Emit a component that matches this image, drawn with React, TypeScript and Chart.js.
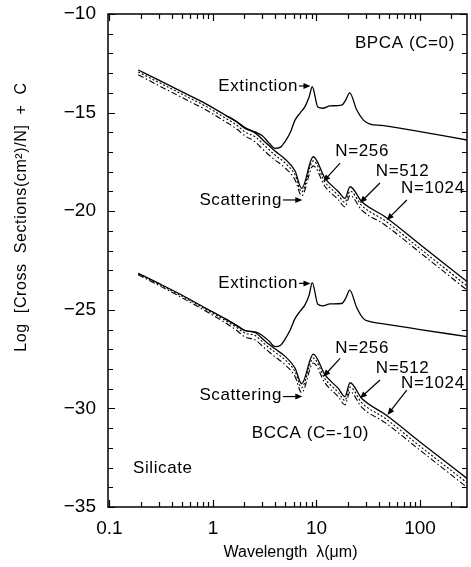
import React, { useEffect, useRef } from 'react';
import { Chart, registerables } from 'chart.js';

Chart.register(...registerables);

// ---------- data ----------
const X_TICKS = [0.1, 1, 10, 100];
const X_MIN = 0.097;
const X_MAX = 284;
const Y_MIN = -35;
const Y_MAX = -10;

// scattering cross sections (shared wavelength grid, µm)
const WL_SCA = [0.19, 0.3, 0.5, 0.84, 1.31, 1.7, 2.04, 2.55, 3.2, 3.97, 4.96, 6.2, 7.19, 9.31, 12.1, 16.3, 18.8, 21.1, 27.4, 45.9, 100, 284];
const BPCA_SCA_256 = [-12.84, -13.35, -13.94, -14.53, -15.12, -15.47, -15.8, -16.03, -16.5, -16.95, -17.35, -17.95, -18.84, -17.24, -18.33, -19.01, -19.35, -18.76, -19.52, -20.28, -21.69, -23.57];
const BPCA_SCA_512 = [-12.94, -13.47, -14.06, -14.66, -15.27, -15.64, -15.98, -16.22, -16.7, -17.15, -17.55, -18.15, -19.02, -17.45, -18.53, -19.2, -19.55, -18.98, -19.72, -20.48, -21.9, -23.79];
const BPCA_SCA_1024 = [-13.08, -13.63, -14.23, -14.84, -15.45, -15.83, -16.18, -16.48, -16.98, -17.4, -17.8, -18.4, -19.22, -17.7, -18.75, -19.42, -19.78, -19.2, -19.95, -20.7, -22.1, -24.0];
const BCCA_SCA_256 = [-23.15, -23.66, -24.25, -24.9, -25.45, -25.8, -26.05, -26.15, -26.6, -26.98, -27.35, -27.95, -28.75, -27.25, -28.3, -29.0, -29.4, -28.7, -29.5, -30.3, -31.7, -33.55];
const BCCA_SCA_512 = [-23.18, -23.7, -24.3, -24.96, -25.53, -25.9, -26.18, -26.3, -26.76, -27.15, -27.53, -28.13, -28.95, -27.45, -28.5, -29.2, -29.6, -28.92, -29.72, -30.5, -31.92, -33.77];
const BCCA_SCA_1024 = [-23.22, -23.76, -24.38, -25.05, -25.65, -26.05, -26.38, -26.52, -26.97, -27.38, -27.78, -28.38, -29.2, -27.7, -28.72, -29.42, -29.82, -29.15, -29.95, -30.72, -32.12, -34.0];

// extinction cross sections
const WL_EXT = [1.31, 1.7, 2.04, 2.55, 3.0, 3.5, 3.97, 4.5, 4.96, 5.6, 6.2, 7.0, 7.74, 8.5, 9.1, 10.3, 11.5, 13.5, 17.5, 19.2, 20.9, 24.5, 28.4, 32.9, 42.7, 100, 284];
const BPCA_EXT = [-15.12, -15.46, -15.76, -15.98, -16.17, -16.55, -16.81, -16.75, -16.48, -16.0, -15.38, -15.0, -14.7, -14.2, -13.69, -14.72, -14.78, -14.66, -14.62, -14.35, -14.0, -14.87, -15.38, -15.58, -15.65, -15.97, -16.39];
const BCCA_EXT = [-25.45, -25.8, -26.05, -26.12, -26.3, -26.6, -26.87, -26.8, -26.5, -26.0, -25.45, -25.05, -24.75, -24.25, -23.62, -24.72, -24.8, -24.7, -24.68, -24.4, -24.0, -24.9, -25.45, -25.6, -25.7, -26.0, -26.36];

// text annotations (data coordinates)
const LABEL_TEXT = ['BPCA (C=0)', 'Extinction', 'Scattering', 'N=256', 'N=512', 'N=1024', 'Extinction', 'Scattering', 'N=256', 'N=512', 'N=1024', 'BCCA (C=-10)', 'Silicate'];
const LABEL_X = [23.5, 6.63, 4.64, 27.6, 67.9, 133, 6.63, 4.64, 27.6, 67.9, 133, 2.37, 0.169];
const LABEL_Y = [-11.47, -13.65, -19.43, -16.98, -18.0, -18.82, -23.66, -29.32, -26.95, -27.97, -28.73, -31.25, -33.02];
const LABEL_ALIGN = ['left', 'right', 'right', 'center', 'center', 'center', 'right', 'right', 'center', 'center', 'center', 'left', 'left'];

// arrows (from -> to, data coordinates)
const ARROW_X1 = [6.78, 4.74, 16.9, 41.0, 74.5, 6.78, 4.74, 16.9, 41.0, 74.5];
const ARROW_Y1 = [-13.65, -19.43, -17.56, -18.57, -19.43, -23.66, -29.4, -27.46, -28.56, -29.07];
const ARROW_X2 = [8.75, 7.3, 11.65, 26.3, 47.7, 8.75, 7.3, 11.65, 26.3, 48.5];
const ARROW_Y2 = [-13.65, -19.43, -18.5, -19.58, -20.45, -23.66, -29.4, -28.39, -29.49, -30.33];

const FONT = '"Liberation Sans", Arial, sans-serif';

const pts = (xs: number[], ys: number[]) => xs.map((x, i) => ({ x, y: ys[i] }));

const SOLID: number[] = [];
const DOTTED = [2, 2];
const DASHDOT = [6, 2.5, 1.5, 2.5];

function ds(xs: number[], ys: number[], dash: number[], width: number) {
  return {
    data: pts(xs, ys),
    borderColor: '#000',
    borderWidth: width,
    borderDash: dash,
    pointRadius: 0,
    fill: false,
    cubicInterpolationMode: 'monotone' as const,
  };
}

const framePlugin = {
  id: 'frameAndNotes',
  afterDraw(chart: any) {
    const ctx = chart.ctx as CanvasRenderingContext2D;
    const xs = chart.scales.x;
    const ys = chart.scales.y;
    const { left, right, top, bottom } = chart.chartArea;
    ctx.save();
    ctx.strokeStyle = '#000';
    ctx.fillStyle = '#000';
    ctx.lineWidth = 1.5;
    ctx.strokeRect(left, top, right - left, bottom - top);

    // x ticks (top & bottom, inward)
    ctx.lineWidth = 1.2;
    for (let d = -2; d <= 3; d++) {
      for (let k = 1; k <= 9; k++) {
        const v = k * Math.pow(10, d);
        if (v < X_MIN || v > X_MAX) continue;
        const px = Math.round(xs.getPixelForValue(v)) + 0.5;
        const len = k === 1 ? 7 : 5;
        ctx.beginPath();
        ctx.moveTo(px, bottom);
        ctx.lineTo(px, bottom - len);
        ctx.moveTo(px, top);
        ctx.lineTo(px, top + len);
        ctx.stroke();
      }
    }
    // y ticks (left & right, inward)
    for (let v = Y_MIN; v <= Y_MAX; v++) {
      const py = Math.round(ys.getPixelForValue(v)) + 0.5;
      const len = v % 5 === 0 ? 7 : 5;
      ctx.beginPath();
      ctx.moveTo(left, py);
      ctx.lineTo(left + len, py);
      ctx.moveTo(right, py);
      ctx.lineTo(right - len, py);
      ctx.stroke();
    }

    // annotation texts
    ctx.font = `17px ${FONT}`;
    ctx.textBaseline = 'middle';
    try { (ctx as any).letterSpacing = '0.6px'; } catch (e) {}
    for (let i = 0; i < LABEL_TEXT.length; i++) {
      ctx.textAlign = LABEL_ALIGN[i] as CanvasTextAlign;
      ctx.fillText(LABEL_TEXT[i], xs.getPixelForValue(LABEL_X[i]), ys.getPixelForValue(LABEL_Y[i]));
    }
    try { (ctx as any).letterSpacing = '0px'; } catch (e) {}

    // arrows
    ctx.lineWidth = 1.2;
    for (let i = 0; i < ARROW_X1.length; i++) {
      const x1 = xs.getPixelForValue(ARROW_X1[i]);
      const y1 = ys.getPixelForValue(ARROW_Y1[i]);
      const x2 = xs.getPixelForValue(ARROW_X2[i]);
      const y2 = ys.getPixelForValue(ARROW_Y2[i]);
      const a = Math.atan2(y2 - y1, x2 - x1);
      const hl = 7;
      const hw = 3;
      ctx.beginPath();
      ctx.moveTo(x1, y1);
      ctx.lineTo(x2 - Math.cos(a) * hl * 0.8, y2 - Math.sin(a) * hl * 0.8);
      ctx.stroke();
      ctx.beginPath();
      ctx.moveTo(x2, y2);
      ctx.lineTo(x2 - Math.cos(a) * hl - Math.sin(a) * hw, y2 - Math.sin(a) * hl + Math.cos(a) * hw);
      ctx.lineTo(x2 - Math.cos(a) * hl + Math.sin(a) * hw, y2 - Math.sin(a) * hl - Math.cos(a) * hw);
      ctx.closePath();
      ctx.fill();
    }

    // axis titles
    ctx.font = `16px ${FONT}`;
    ctx.textAlign = 'center';
    ctx.textBaseline = 'middle';
    ctx.fillText('Wavelength  λ(μm)', (left + right) / 2 + 3, 553);
    ctx.save();
    ctx.translate(22, 217);
    ctx.rotate(-Math.PI / 2);
    try { (ctx as any).letterSpacing = '0.6px'; } catch (e) {}
    ctx.fillText('Log  [Cross  Sections(cm²)/N]  +  C', 0, 0);
    ctx.restore();
    ctx.restore();
  },
};

const zeroPad = (s: any) => {
  s.paddingTop = 0;
  s.paddingBottom = 0;
  s.paddingLeft = 0;
  s.paddingRight = 0;
};

export default function App() {
  const ref = useRef<HTMLCanvasElement | null>(null);
  useEffect(() => {
    if (!ref.current) return;
    const chart = new Chart(ref.current, {
      type: 'line',
      data: {
        datasets: [
          ds(WL_SCA, BPCA_SCA_256, SOLID, 1.3),
          ds(WL_SCA, BPCA_SCA_512, DOTTED, 1.1),
          ds(WL_SCA, BPCA_SCA_1024, DASHDOT, 1.1),
          ds(WL_EXT, BPCA_EXT, SOLID, 1.3),
          ds(WL_SCA, BCCA_SCA_256, SOLID, 1.3),
          ds(WL_SCA, BCCA_SCA_512, DOTTED, 1.1),
          ds(WL_SCA, BCCA_SCA_1024, DASHDOT, 1.1),
          ds(WL_EXT, BCCA_EXT, SOLID, 1.3),
        ] as any,
      },
      options: {
        responsive: false,
        animation: false,
        parsing: true,
        layout: { padding: { top: 14, right: 4, left: 0, bottom: 0 } },
        plugins: { legend: { display: false }, tooltip: { enabled: false }, title: { display: false } },
        scales: {
          x: {
            type: 'logarithmic',
            min: X_MIN,
            max: X_MAX,
            afterBuildTicks: (axis: any) => {
              axis.ticks = X_TICKS.map((v) => ({ value: v }));
            },
            afterFit: (s: any) => { s.height = 60; zeroPad(s); },
            grid: { display: false, drawTicks: false },
            border: { display: false },
            ticks: {
              autoSkip: false,
              maxRotation: 0,
              padding: 10,
              color: '#000',
              font: { family: FONT, size: 19 },
              callback: (v: any) => String(v),
            },
          },
          y: {
            type: 'linear',
            min: Y_MIN,
            max: Y_MAX,
            afterFit: (s: any) => { s.width = 108; zeroPad(s); },
            grid: { display: false, drawTicks: false },
            border: { display: false },
            ticks: {
              stepSize: 5,
              padding: 12,
              color: '#000',
              font: { family: FONT, size: 19 },
              callback: (v: any) => (v < 0 ? '\u2212' + Math.abs(v) : String(v)),
            },
          },
        },
      } as any,
      plugins: [framePlugin],
    });
    return () => chart.destroy();
  }, []);
  return (
    <div style={{ position: 'fixed', left: 0, top: 0, width: 471, height: 567, background: '#fff' }}>
      <canvas ref={ref} width={471} height={567} style={{ display: 'block' }} />
    </div>
  );
}
